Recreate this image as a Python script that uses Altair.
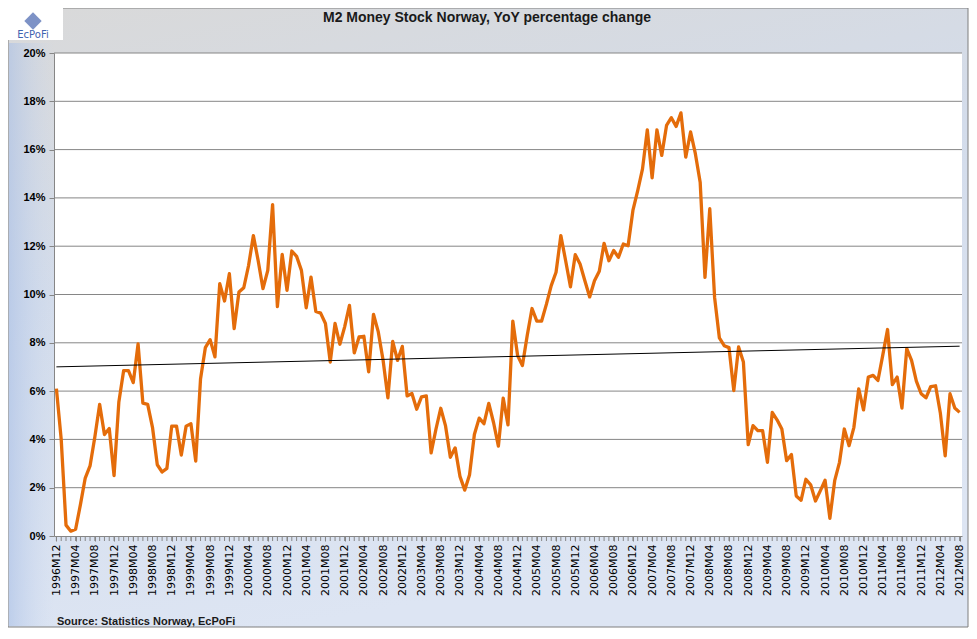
import altair as alt
import pandas as pd
import numpy as np

# ---- data (YoY % change of M2, monthly 1996M12 .. 2012M08) ----
v_1996_1999 = [6.1, 4.0, 0.45, 0.2, 0.28, 1.3, 2.4, 2.9, 4.1, 5.45, 4.2, 4.45, 2.5,
               5.55, 6.85, 6.85, 6.35, 7.95, 5.5, 5.45, 4.5, 2.95, 2.65, 2.8, 4.55,
               4.55, 3.35, 4.55, 4.65, 3.1, 6.5, 7.8, 8.13, 7.42, 10.45, 9.73, 10.86]
v_2000_2002 = [8.59, 10.1, 10.28, 11.2, 12.44, 11.4, 10.24, 11.0, 13.72, 9.5, 11.66, 10.17,
               11.8, 11.58, 11.0, 9.45, 10.72, 9.3, 9.23, 8.8, 7.2, 8.8, 7.94, 8.66,
               9.55, 7.58, 8.24, 8.27, 6.8, 9.18, 8.45, 7.28, 5.72, 8.06, 7.27, 7.85]
v_2003_2005 = [5.8, 5.9, 5.25, 5.76, 5.8, 3.44, 4.42, 5.29, 4.56, 3.26, 3.65, 2.47,
               1.9, 2.54, 4.2, 4.88, 4.65, 5.49, 4.69, 3.72, 5.71, 4.6, 8.9, 7.47,
               7.06, 8.3, 9.42, 8.9, 8.9, 9.6, 10.37, 10.92, 12.44, 11.4, 10.32, 11.65]
v_2006_2008 = [11.26, 10.57, 9.9, 10.57, 10.96, 12.12, 11.4, 11.82, 11.54, 12.09, 12.02, 13.48,
               14.3, 15.2, 16.82, 14.83, 16.82, 15.76, 17.0, 17.32, 16.96, 17.52, 15.69, 16.73,
               15.83, 14.65, 10.71, 13.55, 9.88, 8.2, 7.88, 7.8, 6.02, 7.83, 7.2, 3.78]
v_2009_2012 = [4.57, 4.36, 4.36, 3.05, 5.12, 4.81, 4.43, 3.12, 3.37, 1.66, 1.48, 2.35,
               2.12, 1.45, 1.87, 2.31, 0.73, 2.29, 3.05, 4.43, 3.74, 4.5, 6.09, 5.22,
               6.58, 6.65, 6.44, 7.48, 8.55, 6.27, 6.58, 5.3, 7.76, 7.27, 6.41, 5.89,
               5.72, 6.19, 6.22, 5.08, 3.32, 5.89, 5.3, 5.12]
values = v_1996_1999 + v_2000_2002 + v_2003_2005 + v_2006_2008 + v_2009_2012

# category labels
labels = []
y, m = 1996, 12
while (y, m) <= (2012, 8):
    labels.append(f"{y}M{m:02d}")
    m += 1
    if m > 12:
        m, y = 1, y + 1
n = min(len(labels), len(values))
labels, values = labels[:n], values[:n]
tick_labels = labels[::4]
y_ticks = list(range(0, 21, 2))

title_text = "M2 Money Stock Norway, YoY percentage change"
source_text = "Source: Statistics  Norway, EcPoFi"

df = pd.DataFrame({"label": labels, "value": values})
slope, icpt = np.polyfit(np.arange(n), np.array(values), 1)
trend = pd.DataFrame({"label": [labels[0], labels[-1]],
                      "value": [icpt, icpt + slope * (n - 1)]})
grid = pd.DataFrame({"g": y_ticks[1:]})
one = pd.DataFrame({"a": [0]})

W, H = 908, 483
GRAY = "#868686"

xscale = alt.Scale(type="point", domain=labels, padding=0.5)
yscale = alt.Scale(domain=[0, 20], nice=False, zero=True)

xenc = alt.X("label:O", scale=xscale, title=None,
             axis=alt.Axis(values=tick_labels, labelAngle=270, labelFont="DejaVu Sans",
                           labelFontSize=11, labelColor="#000000", labelPadding=3,
                           tickSize=5, tickColor=GRAY, domainColor=GRAY, zindex=1,
                           labelOverlap=False, grid=False))
yenc = alt.Y("value:Q", scale=yscale, title=None,
             axis=alt.Axis(values=y_ticks, labelExpr="datum.value + '%'",
                           labelFont="Liberation Sans", labelFontWeight="bold",
                           labelFontSize=11, labelColor="#000000", labelPadding=4,
                           tickSize=5, tickColor=GRAY, domainColor=GRAY, zindex=1,
                           grid=False))

bg = alt.Chart(one).mark_rect(
    fill={"gradient": "linear", "x1": 0, "y1": 0, "x2": 0.3, "y2": 1,
          "stops": [{"offset": 0, "color": "#D9D9D9"},
                    {"offset": 0.45, "color": "#D3DCEB"},
                    {"offset": 1, "color": "#DDE5F3"}]},
    stroke="#7F7F7F", strokeWidth=1
).encode(x=alt.value(-46), x2=alt.value(914), y=alt.value(-45), y2=alt.value(574))

bg_left = alt.Chart(one).mark_rect(
    fill={"gradient": "linear", "x1": 0, "y1": 0, "x2": 1, "y2": 0,
          "stops": [{"offset": 0, "color": "rgba(170,192,230,0.6)"},
                    {"offset": 1, "color": "rgba(200,215,240,0)"}]}
).encode(x=alt.value(-45), x2=alt.value(0), y=alt.value(-10), y2=alt.value(573))

logo_box = alt.Chart(one).mark_rect(fill="white").encode(
    x=alt.value(-46), x2=alt.value(9), y=alt.value(-45), y2=alt.value(-13))
logo_mark = alt.Chart(one).mark_point(shape="diamond", filled=True, color="#6F86C0",
                                      size=300, opacity=0.9).encode(
    x=alt.value(-21), y=alt.value(-32))
logo_text = alt.Chart(one).mark_text(text="EcPoFi", font="DejaVu Sans", fontSize=10,
                                     color="#3F63B0", align="center", baseline="middle").encode(
    x=alt.value(-21), y=alt.value(-18))

plot_bg = alt.Chart(one).mark_rect(fill="white").encode(
    x=alt.value(0), x2=alt.value(W), y=alt.value(0), y2=alt.value(H))

grid_rules = alt.Chart(grid).mark_rule(color=GRAY, strokeWidth=1).encode(
    x=alt.value(0), x2=alt.value(W), y=alt.Y("g:Q", scale=yscale))

month_ticks = alt.Chart(df).mark_rule(color=GRAY, strokeWidth=1).encode(
    x=alt.X("label:O", scale=xscale), y=alt.value(H), y2=alt.value(H + 5))

line = alt.Chart(df).mark_line(color="#E46C0A", strokeWidth=3.3, strokeJoin="round").encode(
    x=xenc, y=yenc)

trend_line = alt.Chart(trend).mark_line(color="#000000", strokeWidth=1).encode(
    x=alt.X("label:O", scale=xscale), y=alt.Y("value:Q", scale=yscale))

title = alt.Chart(one).mark_text(text=title_text, font="Liberation Sans", fontWeight="bold",
                                 fontSize=14, color="#1A1A1A", align="center",
                                 baseline="middle").encode(
    x=alt.value(433), y=alt.value(-35))
source = alt.Chart(one).mark_text(text=source_text, font="Liberation Sans", fontWeight="bold",
                                  fontSize=11, color="#1A1A1A", align="left",
                                  baseline="middle").encode(
    x=alt.value(3), y=alt.value(569))

chart = alt.layer(bg, bg_left, logo_box, logo_mark, logo_text, plot_bg, grid_rules,
                  month_ticks, line, trend_line, title, source).properties(
    width=W, height=H,
    autosize=alt.AutoSizeParams(type="none"),
    padding={"left": 46, "top": 45, "right": 7, "bottom": 92},
).configure_view(strokeWidth=0)

chart.save("out.html", embed_options={"renderer": "svg", "actions": False})
